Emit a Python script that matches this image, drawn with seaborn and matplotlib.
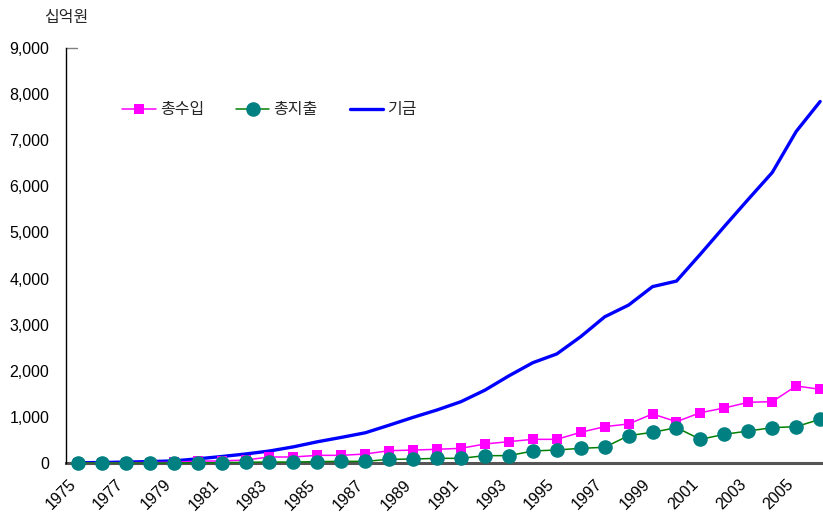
import matplotlib
matplotlib.use("Agg")
import matplotlib.pyplot as plt
import matplotlib.lines as mlines
import matplotlib.transforms as mtransforms
import numpy as np
import pandas as pd
import seaborn as sns

# 연도별 총수입, 총지출, 기금 (단위: 십억원)
years = list(range(1975, 2007))
revenue = [0, 0, 5, 10, 15, 40, 45, 65, 130, 130, 166, 166, 195, 267, 280, 297,
           318, 412, 463, 513, 513, 665, 788, 846, 1063, 896, 1091, 1193, 1316,
           1330, 1670, 1598]
expenditure = [0, 0, 0, 0, 0, 5, 5, 15, 20, 20, 30, 35, 35, 80, 85, 101,
               101, 159, 159, 260, 282, 318, 340, 593, 665, 766, 513, 622, 694,
               766, 788, 948]
fund = [5, 10, 20, 30, 45, 90, 140, 195, 260, 350, 460, 555, 655, 820, 990, 1150,
        1330, 1580, 1890, 2175, 2365, 2740, 3170, 3425, 3825, 3945, 4530, 5130,
        5720, 6300, 7190, 7840]
series_names = ["총수입", "총지출", "기금"]
y_ticks = list(range(0, 9001, 1000))
x_ticks = list(range(1975, 2006, 2))

df = pd.DataFrame({"year": years, "총수입": revenue, "총지출": expenditure, "기금": fund})

sns.set_style("white")
plt.rcParams["font.family"] = ["Liberation Sans", "Noto Sans CJK KR", "DejaVu Sans"]
korean = ["Noto Sans CJK KR", "DejaVu Sans"]

fig = plt.figure(figsize=(8.23, 5.13), dpi=100)
ax = fig.add_axes([0.0802, 0.0975, 0.9198, 0.8089])

sns.lineplot(data=df, x="year", y="기금", ax=ax, color="#0000FF", linewidth=2.4,
             zorder=3)
sns.lineplot(data=df, x="year", y="총수입", ax=ax, color="#FF00FF", linewidth=1.1,
             marker="s", markersize=7, markeredgewidth=0, zorder=4, clip_on=False)
sns.lineplot(data=df, x="year", y="총지출", ax=ax, color="#008000", linewidth=1.1,
             marker="o", markersize=10.5, markerfacecolor="#008080",
             markeredgewidth=0, zorder=5, clip_on=False)

ax.set_xlim(1974.5, 2006.12)
ax.set_ylim(0, 9000)
ax.set_yticks(y_ticks)
ax.set_yticklabels([f"{v:,}" for v in y_ticks])
ax.set_xticks(x_ticks)
ax.set_xticklabels([str(y) for y in x_ticks])
ax.set_xlabel("")
ax.set_ylabel("")
ax.tick_params(axis="both", length=0, labelsize=11.5, colors="black")
ax.tick_params(axis="y", pad=12)
ax.tick_params(axis="x", pad=10)
shift = mtransforms.ScaledTranslation(-10 / 100, 0, fig.dpi_scale_trans)
for lbl in ax.get_xticklabels():
    lbl.set_rotation(45)
    lbl.set_ha("right")
    lbl.set_va("top")
    lbl.set_rotation_mode("anchor")
    lbl.set_transform(lbl.get_transform() + shift)

for side in ["top", "right"]:
    ax.spines[side].set_visible(False)
ax.spines["left"].set_color("black")
ax.spines["left"].set_linewidth(1.0)
ax.spines["bottom"].set_color("#555555")
ax.spines["bottom"].set_linewidth(2.2)
ax.spines["bottom"].set_zorder(2)

# short frame stub at the top of the value axis
ax.add_line(mlines.Line2D([0, 0.014], [1, 1], transform=ax.transAxes,
                          color="#808080", linewidth=1.0, clip_on=False))

fig.text(0.054, 0.965, "십억원", fontsize=11.5, ha="left", va="center",
         family=korean)

handles = [
    mlines.Line2D([], [], color="#FF00FF", linewidth=1.1, marker="s",
                  markersize=7, markeredgewidth=0),
    mlines.Line2D([], [], color="#008000", linewidth=1.1, marker="o",
                  markersize=10.5, markerfacecolor="#008080", markeredgewidth=0),
    mlines.Line2D([], [], color="#0000FF", linewidth=2.4),
]
ax.legend(handles, series_names, loc="center left",
          bbox_to_anchor=(0.131, 0.786), bbox_transform=fig.transFigure,
          ncol=3, frameon=False, handlelength=2.1, handletextpad=0.25,
          columnspacing=2.0, prop={"family": korean, "size": 11.5})

fig.savefig("out.png", dpi=100)
